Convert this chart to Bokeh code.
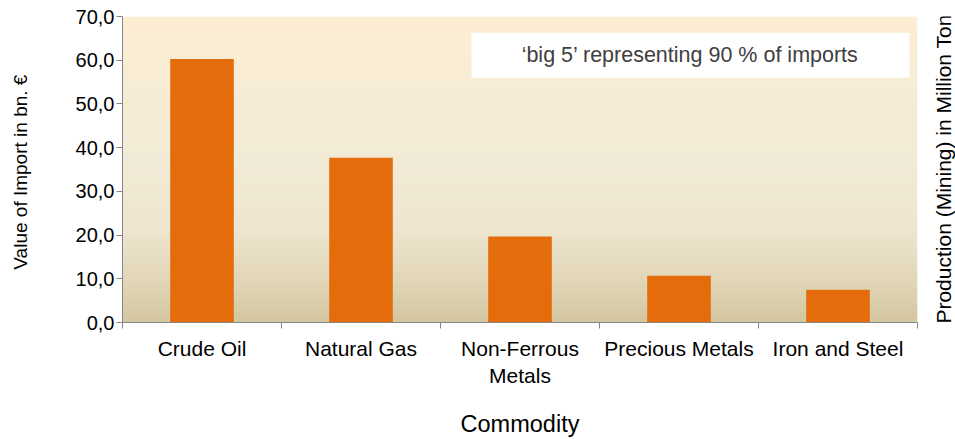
import math
import numpy as np
from bokeh.plotting import figure
from bokeh.layouts import row
from bokeh.models import (Range1d, FixedTicker, Label, BoxAnnotation)
from bokeh.core.properties import value
from bokeh.embed import file_html
from bokeh.resources import INLINE

# ---- data ----
categories = ["Crude Oil", "Natural Gas", "Non-Ferrous\nMetals", "Precious Metals", "Iron and Steel"]
import_values = [60.3, 37.7, 19.7, 10.7, 7.5]
y_ticks = [0, 10, 20, 30, 40, 50, 60, 70]
y_tick_labels = ["0,0", "10,0", "20,0", "30,0", "40,0", "50,0", "60,0", "70,0"]
note_text = "\u2018big 5\u2019 representing 90 % of imports"
y_title = "Value of Import in bn.  \u20ac"
x_title = "Commodity"
right_title = "Production (Mining) in Million Tons"

n = len(categories)
centers = [i + 0.5 for i in range(n)]
bounds = [float(i) for i in range(n + 1)]

FONT = "Liberation Sans"
GRAY = "#868686"
H = 441

p = figure(width=919, height=H, output_backend="svg", toolbar_location=None,
           x_range=Range1d(0, n), y_range=Range1d(y_ticks[0], y_ticks[-1]),
           min_border_left=122, min_border_right=2, min_border_top=16, min_border_bottom=119)
p.outline_line_color = None
p.background_fill_color = "white"
p.border_fill_color = "white"
p.xgrid.visible = False
p.ygrid.visible = False

# gradient background of plot area
stops = np.array([0.0, 0.12, 0.3, 0.55, 1.0])
cols = np.array([[212, 198, 160], [225, 213, 182], [238, 230, 208], [242, 235, 215], [253, 238, 211]])
N = 200
fr = np.linspace(0, 1, N)
rgb = np.stack([np.interp(fr, stops, cols[:, k]) for k in range(3)], axis=1).astype(np.uint32)
img = np.empty((N, 2), dtype=np.uint32)
view = img.view(dtype=np.uint8).reshape((N, 2, 4))
for j in range(2):
    view[:, j, 0] = rgb[:, 0]
    view[:, j, 1] = rgb[:, 1]
    view[:, j, 2] = rgb[:, 2]
    view[:, j, 3] = 255
p.image_rgba(image=[img], x=0, y=y_ticks[0], dw=n, dh=y_ticks[-1] - y_ticks[0])

# bars
p.vbar(x=centers, top=import_values, width=0.4, fill_color="#E46C0A", line_color=None)

# note box
p.add_layout(BoxAnnotation(left=2.195, right=4.95, bottom=56.0, top=66.3,
                           fill_color="white", fill_alpha=1.0, line_color=None))
p.add_layout(Label(x=3.57, y=61.2, text=note_text, text_align="center", text_baseline="middle",
                   text_font=FONT, text_font_size="21.5px", text_color="#404040"))

# x axis
xa = p.xaxis[0]
xa.ticker = FixedTicker(ticks=centers, minor_ticks=bounds)
xa.major_label_overrides = {c: lab for c, lab in zip(centers, categories)}
xa.major_tick_out = 0
xa.major_tick_in = 0
xa.minor_tick_out = 6
xa.minor_tick_in = 0
xa.minor_tick_line_color = GRAY
xa.axis_line_color = GRAY
xa.major_label_standoff = 8
xa.major_label_text_font = FONT
xa.major_label_text_font_size = "21px"
xa.major_label_text_color = "black"
xa.axis_label = x_title
xa.axis_label_text_font = FONT
xa.axis_label_text_font_size = "23.5px"
xa.axis_label_text_font_style = "normal"
xa.axis_label_text_color = "black"
xa.axis_label_standoff = 21

# y axis
ya = p.yaxis[0]
ya.ticker = FixedTicker(ticks=y_ticks)
ya.major_label_overrides = {t: lab for t, lab in zip(y_ticks, y_tick_labels)}
ya.major_tick_out = 6
ya.major_tick_in = 0
ya.minor_tick_out = 0
ya.minor_tick_in = 0
ya.major_tick_line_color = GRAY
ya.axis_line_color = GRAY
ya.major_label_standoff = 2
ya.major_label_text_font = FONT
ya.major_label_text_font_size = "20px"
ya.major_label_text_color = "black"
ya.axis_label = y_title
ya.axis_label_text_font = FONT
ya.axis_label_text_font_size = "19px"
ya.axis_label_text_font_style = "normal"
ya.axis_label_text_color = "black"
ya.axis_label_standoff = 42

# right-hand secondary-axis title (partly cut off at the page edge), in a narrow side panel
side = figure(width=36, height=H, output_backend="svg", toolbar_location=None,
              x_range=Range1d(0, 1), y_range=Range1d(0, 1),
              min_border_left=0, min_border_right=0, min_border_top=0, min_border_bottom=0)
side.axis.visible = False
side.grid.visible = False
side.outline_line_color = None
side.background_fill_color = "white"
side.border_fill_color = "white"
side.text(x=[0.667], y=[0.519], text=[right_title], angle=math.pi / 2,
          text_align="center", text_baseline="middle",
          text_font=value(FONT), text_font_size="21px", text_color="black")

layout = row(p, side, spacing=0)
open("out.html", "w").write(file_html(layout, INLINE))
